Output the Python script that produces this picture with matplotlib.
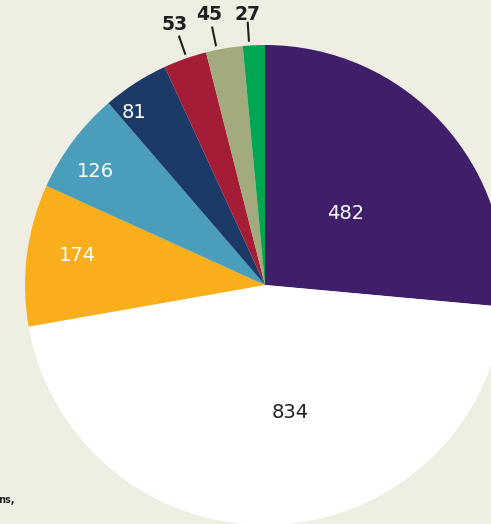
import matplotlib.pyplot as plt
import numpy as np

values = [482, 834, 174, 126, 81, 53, 45, 27]
labels = ['482', '834', '174', '126', '81', '53', '45', '27']
colors = ['#3f1f69', '#ffffff', '#f9ae1b', '#4a9dbb', '#1c3a68', '#a51c36', '#a3ab7e', '#00a651']
text_colors = ['white', '#231f20', 'white', 'white', 'white', '#231f20', '#231f20', '#231f20']
# label placement: fraction of radius and small angle nudge (deg, counter-clockwise)
label_radius = [0.45, 0.54, 0.79, 0.85, 0.90, 1.15, 1.15, 1.13]
label_shift = [-0.8, 8.7, -1.6, 3.1, 4.5, -0.4, 1.8, 1.1]
bg = '#efeee3'

fig = plt.figure(figsize=(4.91, 5.24), dpi=100, facecolor=bg)
ax = fig.add_axes([0, 0, 1, 1])
ax.set_facecolor(bg)

cx, cy, r = 265, 239, 240
wedges, _ = ax.pie(values, colors=colors, startangle=90, counterclock=False,
                   center=(cx, cy), radius=r, frame=True,
                   wedgeprops=dict(linewidth=0))
ax.set_xlim(0, 491)
ax.set_ylim(0, 524)
ax.set_aspect('equal')
ax.axis('off')

for w, lab, tc, lr, sh in zip(wedges, labels, text_colors, label_radius, label_shift):
    mid = np.deg2rad((w.theta1 + w.theta2) / 2 + sh)
    x = cx + lr * r * np.cos(mid)
    y = cy + lr * r * np.sin(mid)
    outside = lr > 1
    ax.text(x, y, lab, ha='center', va='center', color=tc,
            fontsize=13.5 if outside else 14,
            fontweight='bold' if outside else 'normal')
    if outside:
        x0 = cx + 1.02 * r * np.cos(mid)
        y0 = cy + 1.02 * r * np.sin(mid)
        x1 = cx + 1.095 * r * np.cos(mid)
        y1 = cy + 1.095 * r * np.sin(mid)
        ax.plot([x0, x1], [y0, y1], color='#231f20', lw=1.5)

ax.text(15, 24, 'ns,', ha='right', va='center', fontsize=7, fontweight='bold', color='#231f20')

fig.savefig('out.png', dpi=100, facecolor=bg)
